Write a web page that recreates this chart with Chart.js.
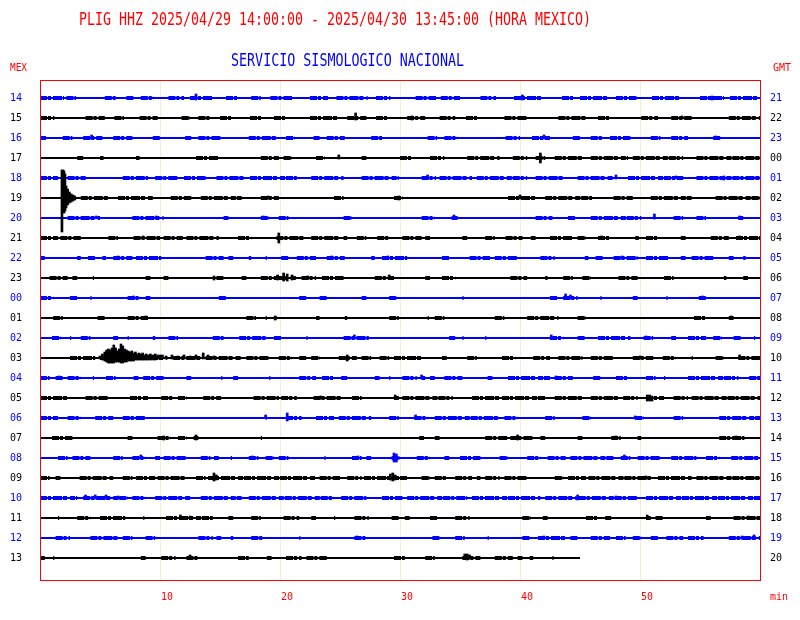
<!DOCTYPE html>
<html>
<head>
<meta charset="utf-8">
<script src="https://cdn.jsdelivr.net/npm/chart.js@4.4.1/dist/chart.umd.min.js"></script>
<style>
  html, body { margin: 0; padding: 0; background: #ffffff; }
  canvas { display: block; }
</style>
</head>
<body>
<canvas id="sismo" width="800" height="620"></canvas>
<script>
//Helicorder PLIG HHZ - one trace per hour, x = minutes, y = row (hour)

//hour labels, left (local) and right (GMT)
const horaMex = ["14","15","16","17","18","19","20","21","22","23","00","01",
                 "02","03","04","05","06","07","08","09","10","11","12","13"];
const horaGmt = ["21","22","23","00","01","02","03","04","05","06","07","08",
                 "09","10","11","12","13","14","15","16","17","18","19","20"];
//minute where each trace ends (last hour is cut at 13:45)
const finTraza = [60,60,60,60,60,60,60,60,60,60,60,60,60,60,60,60,60,60,60,60,60,60,60,45];
const marcasMin = [10, 20, 30, 40, 50]; //x tick labels

//noisy stretches of each trace: pairs [from, to] in minutes
const ruido = [
  [0,2, 2.2,3, 5.4,6.3, 7.2,7.8, 8.4,9.5, 10.7,12, 12.5,14.4, 15.5,16.5, 17.6,18.4, 19.2,21, 22.5,24, 24.7,27.3, 28,29.2, 31.3,33, 33.4,35, 36.7,38, 39.5,42, 43.5,44.5, 45,47.5, 48,49.7, 51,53.5, 55,57, 57.5,60],
  [0,1.2, 3.8,5.4, 6.2,7, 8.3,9.8, 11.8,12.5, 13.2,14.2, 15,16, 17.5,18.5, 19.5,20.5, 22.5,24.8, 25.6,27.2, 28,29, 30.6,32.1, 33.3,34.6, 35.5,36.5, 38.7,40.6, 43.2,45.5, 46.5,47.5, 50.1,51.5, 52.6,54.3, 57.4,60],
  [0,0.5, 1.9,2.7, 3.6,5.2, 6.1,7.7, 9.4,10, 12.1,12.6, 13.2,15.1, 17.4,19.9, 20.5,21.2, 22.8,23.3, 23.9,25.4, 27.6,28.5, 32.3,33.1, 33.7,34.8, 38.8,40, 41,42.5, 44.4,45, 45.9,46.9, 47.5,49.2, 50.9,51.7, 52.6,54, 56.1,56.7],
  [3.1,3.6, 5,5.3, 8,8.3, 13,14.9, 18.4,19.9, 20.3,21, 23,23.7, 26.8,27.2, 30,31, 32.5,33.7, 35.6,38.3, 39.4,40.6, 41.3,42.1, 42.9,45.2, 45.9,49, 49.4,53.6, 54.7,60],
  [0,1.5, 2.3,3.8, 6.9,9, 9.6,11.5, 12,13.8, 14.7,17, 17.5,21.4, 22.6,25.3, 26.8,29.9, 31.8,33, 33.3,36, 36.4,40.6, 41.3,43.6, 44.8,47.8, 49,53.6, 54.7,60],
  [3.4,5.7, 6.5,9.4, 10.9,12.6, 13.4,16.8, 18.4,19.9, 24.5,25.3, 29.5,30.2, 39,41.3, 42.1,46, 47.8,49.4, 50.9,54.3, 56.3,60],
  [2.3,5, 7.7,10.3, 15.3,15.7, 18.4,19.1, 19.9,20.7, 25.3,26, 31.8,32.9, 34.3,34.8, 41.3,42.7, 44,44.6, 45.9,50.1, 52.8,53.6, 54.7,55.5, 58.2,58.6],
  [0,1.5, 1.7,3.4, 5.7,6.5, 7.8,10, 10.3,11.9, 12.2,14.9, 16.5,17.6, 19.7,22.2, 22.6,24.9, 25.3,25.6, 26.4,27.2, 28.1,29.1, 30.2,31.8, 32.1,32.5, 35.2,35.6, 37.1,37.9, 38.8,40.2, 40.9,41.3, 42.5,44.4, 44.8,45.5, 46.5,47.5, 49.6,49.9, 50.5,51.5, 53.4,53.8, 55.9,57.4, 58,60],
  [0,0.4, 3.1,3.4, 4,4.6, 5.2,5.5, 6.1,7.7, 8,10.1, 13.8,15.3, 15.7,16.1, 17.4,17.6, 18.8,18.9, 20.1,20.7, 21.4,23, 23.9,25.4, 27.6,27.9, 28.5,30.6, 33.5,34.1, 35.8,37.5, 37.9,39.8, 41.7,42.9, 45.4,45.7, 46.3,46.9, 47.8,49.8, 50.5,52.4, 53.4,53.8, 54.3,56.1, 57.4,57.8, 58.6,58.8],
  [0.8,2.3, 2.7,3.1, 4.4,4.5, 8.8,9.2, 10.3,10.7, 14.7,15.3, 16.8,17.2, 18.4,21.4, 21.8,23, 23.5,25.3, 27.9,29.5, 32.1,32.5, 33.5,34.6, 39.2,40.6, 42.1,42.3, 43.6,44.4, 45.2,45.9, 48.2,49.8, 52,52.8, 57,57.2, 58.6,59],
  [0,1.1, 2.5,3.1, 4.2,4.3, 7.3,8.4, 8.8,9.2, 14.9,15.5, 21.6,22.2, 23.3,23.9, 26.8,27.2, 29.1,29.7, 35.2,35.3, 42.5,43.1, 43.6,44.8, 46.7,46.8, 49.4,49.8, 52.2,52.3, 54.9,55.5],
  [1.1,1.9, 4.8,5.4, 7.3,9, 17.2,18, 18.8,18.9, 19.5,19.7, 23,23.3, 25.4,25.6, 29.1,29.9, 32.3,32.4, 32.9,33.7, 37.9,38.7, 40.6,43.2, 44.8,45.5, 54.5,55.5, 57.4,57.8],
  [1,1.7, 2.5,2.6, 3.4,4.2, 6.1,6.5, 7.3,7.4, 9.4,9.6, 10.7,11.5, 14.4,15.3, 16.6,18.8, 19.5,20.1, 22.2,22.3, 25.3,27.4, 34.1,34.6, 35.2,35.3, 37.1,37.2, 42.5,43.6, 44.8,45.4, 46.5,49.2, 50.3,51.1, 52.6,53, 54,55.5, 56.1,56.8, 57.8,58.4, 59.5,59.6],
  [2.5,4.6, 5,10.6, 11.1,13.4, 13.8,16.8, 17.2,19.1, 19.9,21, 21.6,22.2, 22.6,23.3, 24.9,26.4, 26.8,27.6, 28.3,29.1, 29.5,31.8, 33.5,33.9, 35.6,36.4, 38.5,39.6, 41.1,42.5, 43.2,45.2, 45.9,47.8, 49.4,51.1, 51.9,53, 54.3,54.4, 56.3,57, 58.2,60],
  [0,0.8, 1.3,1.9, 2.3,3.4, 4.4,4.5, 5.5,6.3, 7.8,8.2, 8.6,10.3, 12.2,12.6, 15.1,15.2, 16.1,16.5, 19.1,19.2, 21.6,23, 23.5,24.5, 25.1,25.6, 27.9,28.3, 29.1,29.2, 30.2,31.4, 31.8,32.1, 32.5,32.9, 33.7,35.2, 37.3,37.7, 39,42.5, 42.9,44.4, 46.1,46.7, 48,49, 50.5,51.3, 52,52.1, 54,58.2, 59.1,60],
  [0,2.3, 3.8,5.7, 7.5,9, 10.1,11.1, 11.5,12.2, 13.6,15.1, 17.8,19.9, 20.1,21.4, 22.8,25.3, 26,26.8, 29.5,29.9, 30.2,34.4, 36,38.3, 38.5,42.1, 42.9,45.2, 45.9,48.2, 48.6,49.8, 50.5,52, 52.8,54, 54.3,60],
  [0,1.5, 2.3,3.4, 4.6,6.1, 6.9,8.8, 18.8,18.9, 20.5,21.8, 23,24.5, 24.9,27.6, 29.1,29.9, 31.2,32.3, 32.9,38.3, 38.7,39.8, 42.1,42.9, 45.2,45.9, 49.6,50.3, 52.8,53.6, 56.6,60],
  [1,2.7, 7.3,7.7, 9.8,10.9, 11.5,12.2, 12.8,13.2, 18.4,18.5, 31.6,32, 32.9,33.3, 37.1,39, 39.2,41.1, 41.7,42.1, 44.8,45.2, 47.6,48.4, 49.8,50.1, 56.6,58.7],
  [1.5,2.3, 2.7,4.2, 6.1,6.9, 7.7,8.8, 9.6,10, 10.3,12.2, 13.4,14.2, 14.5,14.9, 15.9,16, 17.4,18.2, 18.8,19.5, 19.9,20.7, 23.7,23.8, 26,26.8, 27.2,27.6, 29.3,30, 31.4,32.5, 33.7,34.1, 35,36.7, 38.3,39, 40.6,41.7, 42.3,43.8, 44.2,47.8, 48.4,49.2, 49.8,51.7, 52.6,54.7, 55.5,56.6, 57.6,60],
  [0,0.8, 1.3,1.7, 3.3,6.1, 6.9,7.7, 8,9.6, 9.8,12.2, 13,13.8, 14,23, 23.3,25, 25.6,26.8, 27,30.6, 31.8,32.5, 32.9,33.9, 34.6,36, 36.4,36.7, 37.1,38.3, 38.7,40.6, 42.9,43.6, 44,45.5, 45.7,50.9, 51.5,54.3, 54.7,60],
  [0,3.1, 3.6,7.3, 7.7,8.8, 9.6,12.6, 13.4,16.8, 17.4,24.5, 25.1,27.2, 28.5,30.2, 30.6,35.6, 36,41.7, 42.1,44.7, 44.9,49.8, 50.5,60],
  [1.5,1.6, 3.1,4.2, 5,7.1, 8.6,8.7, 10.5,14.4, 15.7,16.1, 17.6,18.4, 20.3,21.6, 22.6,23, 24.5,24.6, 26.2,27.4, 29.3,29.9, 30.4,30.8, 32.5,33.1, 34.6,35.8, 40.2,40.9, 41.9,42.3, 45.5,46.5, 47.1,47.6, 50.5,50.9, 51.3,51.9, 55.5,55.9, 57.8,60],
  [1.3,2.5, 4.2,6.7, 6.9,7.7, 8.8,9.6, 13.2,14.4, 14.7,15.1, 15.9,16.1, 17.6,18.6, 21.6,21.7, 26.2,27.2, 32.7,33.3, 34.6,35.4, 37.3,37.4, 40.2,40.8, 41.5,43.8, 44.2,44.8, 45.9,47.5, 48,48.8, 49.4,50.1, 50.9,51.5, 52.2,53.6, 54,55.3, 57.4,60],
  [0,0.4, 1.1,1.2, 8.4,8.8, 10.1,11.3, 12.2,13.2, 16.5,17.4, 18.9,19.3, 20.5,21.8, 22.2,23.9, 29.5,30.4, 32.1,32.9, 35.2,36.7, 37.9,39.4, 39.8,40.2, 40.8,41.1, 42.7,42.8]
];

//spikes of each trace: triples [minute, px up, px down]
const picos = [
  [13,4,2, 40.2,3,2, 56,2,2],
  [26.3,5,2, 31,2,2, 53.5,2,1],
  [4.3,3,1, 42,3,1, 56.3,2,1],
  [24.9,3,1, 41.7,5,5],
  [32.3,3,1, 48,3,1, 53,2,1, 57,2,2],
  [1.83,28,34, 1.92,28,14, 2,27,15, 2.08,24,13, 2.17,12,10, 2.3,9,7, 2.45,6,5, 2.6,4,4, 2.75,3,3, 2.9,2,2,
   19,2,1, 29.9,2,2, 40,3,1],
  [4.7,2,0, 9.7,2,0, 18.6,2,1, 34.5,3,1, 51.2,4,1, 58.3,2,1],
  [8.6,2,1, 19.9,5,5, 46.8,2,1, 58.3,2,1],
  [6.5,2,0, 24.3,2,1, 29,2,1, 48.5,2,1],
  [14.5,2,2, 19.8,3,2, 20.3,5,3, 20.6,4,3, 21,3,2, 22.3,2,1, 29.1,3,1],
  [7.8,2,1, 43.8,4,1, 44.2,3,1, 55.2,2,1],
  [8.8,2,1, 19.6,2,2, 41,1,1, 57.6,2,1],
  [26.2,3,1, 42.6,3,1, 50.5,2,1],
  [5,2,1, 5.2,4,2, 5.4,6,3, 5.55,8,4, 5.7,9,5, 5.85,8,5, 6,10,5, 6.15,13,5, 6.3,10,4, 6.45,7,4,
   6.6,9,4, 6.75,14,5, 6.9,12,5, 7.05,9,4, 7.2,8,4, 7.35,7,3, 7.5,6,3, 7.65,7,3, 7.8,5,3, 7.95,6,2,
   8.1,4,2, 8.25,5,2, 8.4,4,2, 8.55,5,2, 8.7,3,2, 8.85,4,2, 9,3,2, 9.2,4,2, 9.4,3,2, 9.6,4,2,
   9.8,3,1, 10,3,1, 10.2,3,1, 10.5,2,1, 11,3,1, 11.5,2,1, 12,3,1, 12.5,2,1, 13,3,1, 13.6,5,1,
   14,3,1, 14.5,2,1, 25.6,3,3, 50,2,1, 58.3,3,1],
  [1.6,2,1, 31.8,3,1, 43,2,1],
  [23.4,2,1, 29.6,3,1, 50.6,3,3, 50.8,3,3, 51,2,3],
  [18.8,3,0, 20.6,5,3, 31.3,3,0, 49.6,2,1],
  [10.3,2,2, 13,3,2, 39.8,3,2, 48,2,1, 58,2,1],
  [8.4,3,0, 17.7,2,0, 26.5,2,1, 29.5,5,4, 29.7,4,4, 48.7,3,1],
  [14.5,5,3, 14.7,3,2, 29.2,4,2, 29.4,5,3, 29.6,3,2, 50.5,2,1],
  [3.8,3,1, 4.6,3,1, 5.5,3,1, 6.5,2,1, 44.8,3,2, 48,2,1],
  [11.7,3,1, 12.5,2,1, 50.6,3,1, 59,2,1],
  [26.4,2,0, 42,2,1, 58.5,2,1, 59.5,3,1],
  [12.5,3,1, 35.4,4,1, 35.6,4,2, 35.8,3,1]
];

const AZUL = "#0000ff";
const NEGRO = "#000000";
const ROJO = "#ff0000";
const FUENTE = '"DejaVu Sans Mono", "Liberation Mono", monospace';

function colorFila(i) {
  return i % 2 === 0 ? AZUL : NEGRO;
}

//build the datasets: base line, noisy stretches, spikes
const datasets = [];
horaMex.forEach((h, i) => {
  const col = colorFila(i);
  datasets.push({
    type: "line",
    data: [{ x: 0, y: i }, { x: finTraza[i], y: i }],
    borderColor: col,
    borderWidth: 2,
    pointRadius: 0,
    order: 2,
  });

  const tramos = [];
  const r = ruido[i];
  for (let k = 0; k < r.length; k += 2) {
    tramos.push({ x: r[k], y: i }, { x: r[k + 1], y: i }, { x: r[k + 1], y: null });
  }
  datasets.push({
    type: "line",
    data: tramos,
    borderColor: col,
    borderWidth: 4,
    borderDash: [7, 1, 3, 2, 9, 1, 4, 3, 5, 1],
    borderCapStyle: "butt",
    pointRadius: 0,
    spanGaps: false,
    order: 1,
  });

  const barras = [];
  const p = picos[i];
  for (let k = 0; k < p.length; k += 3) {
    barras.push({ x: p[k], y: [i - p[k + 1] / 20, i + p[k + 2] / 20] });
  }
  datasets.push({
    type: "bar",
    data: barras,
    backgroundColor: col,
    borderWidth: 0,
    barThickness: 2,
    grouped: false,
    order: i % 2 === 0 ? 0 : -1,
  });
});

//text squeezed to the width it has in the picture
function texto(ctx, txt, x, base, ancho, size, color) {
  ctx.save();
  ctx.font = size + "px " + FUENTE;
  const w = ctx.measureText(txt).width;
  ctx.translate(x, base);
  ctx.scale(ancho / w, 1);
  ctx.fillStyle = color;
  ctx.textBaseline = "alphabetic";
  ctx.fillText(txt, 0, 0);
  ctx.restore();
}

const marco = {
  id: "marco",
  afterDraw(chart) {
    const { ctx, chartArea } = chart;
    ctx.save();
    ctx.strokeStyle = ROJO;
    ctx.lineWidth = 1;
    ctx.strokeRect(chartArea.left + 0.5, chartArea.top + 0.5,
      chartArea.right - chartArea.left, chartArea.bottom - chartArea.top);
    ctx.restore();
    texto(ctx, "PLIG HHZ 2025/04/29 14:00:00 - 2025/04/30 13:45:00 (HORA MEXICO)", 79, 25, 512, 18, ROJO);
    texto(ctx, "SERVICIO SISMOLOGICO NACIONAL", 231, 66, 233, 18, AZUL);
    texto(ctx, "MEX", 10, 71, 17, 11, ROJO);
    texto(ctx, "GMT", 773, 71, 18, 11, ROJO);
    texto(ctx, "min", 770, 600, 18, 11, ROJO);
  },
};

function ticksFilas(scale) {
  scale.ticks = horaMex.map((h, i) => ({ value: i }));
}

const ctx = document.getElementById("sismo");
const chart = new Chart(ctx, {
  type: "line",
  data: { datasets: datasets },
  options: {
    responsive: false,
    animation: false,
    events: [],
    layout: { padding: { top: 80, left: 0, right: 0, bottom: 0 } },
    plugins: {
      legend: { display: false },
      tooltip: { enabled: false },
    },
    scales: {
      x: {
        type: "linear",
        min: 0,
        max: 60,
        offset: false,
        afterBuildTicks: (s) => {
          s.ticks = marcasMin.map((v) => ({ value: v }));
        },
        afterFit: (s) => {
          s.height = 40;
        },
        grid: { color: "#f2efd0", drawTicks: false, offset: false },
        border: { display: false },
        ticks: {
          color: ROJO,
          padding: 11,
          labelOffset: 7,
          maxRotation: 0,
          font: { family: FUENTE, size: 10 },
          callback: (v) => String(v),
        },
      },
      y: {
        type: "linear",
        position: "left",
        min: -0.9,
        max: 24.1,
        reverse: true,
        afterBuildTicks: ticksFilas,
        afterFit: (s) => {
          s.width = 40;
        },
        grid: { display: false, drawTicks: false },
        border: { display: false },
        ticks: {
          padding: 18,
          color: (c) => colorFila(c.index),
          font: { family: FUENTE, size: 10 },
          callback: (v, idx) => horaMex[idx],
        },
      },
      y2: {
        type: "linear",
        position: "right",
        min: -0.9,
        max: 24.1,
        reverse: true,
        afterBuildTicks: ticksFilas,
        afterFit: (s) => {
          s.width = 40;
        },
        grid: { display: false, drawTicks: false },
        border: { display: false },
        ticks: {
          padding: 10,
          color: (c) => colorFila(c.index),
          font: { family: FUENTE, size: 10 },
          callback: (v, idx) => horaGmt[idx],
        },
      },
    },
  },
  plugins: [marco],
});
</script>
</body>
</html>
